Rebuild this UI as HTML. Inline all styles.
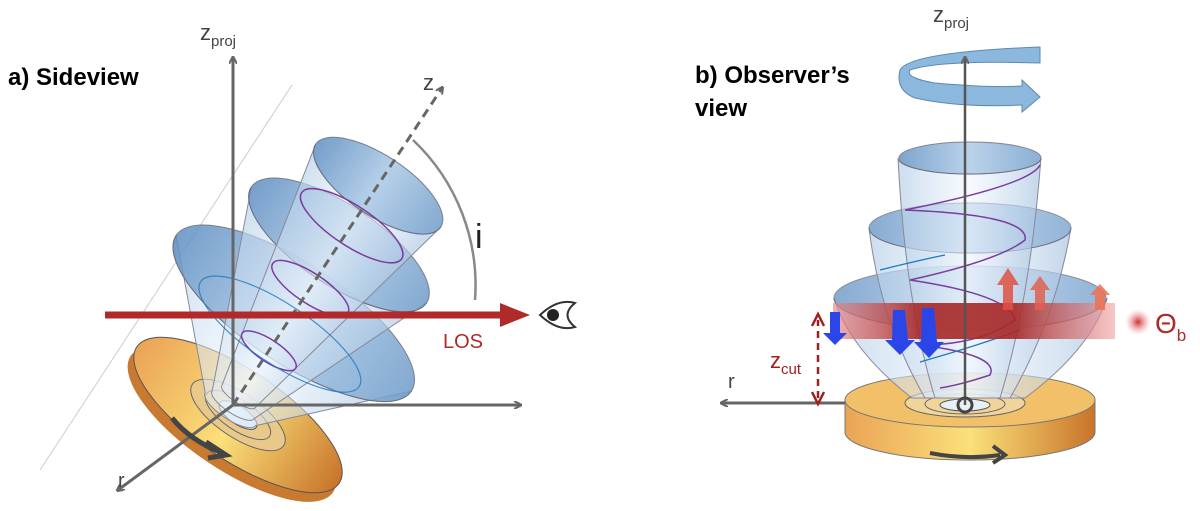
<!DOCTYPE html>
<html><head><meta charset="utf-8"><style>
body{margin:0;background:#fff;overflow:hidden}
svg{display:block;font-family:"Liberation Sans",sans-serif}
</style></head><body>
<svg width="1200" height="511" viewBox="0 0 1200 511" xmlns="http://www.w3.org/2000/svg">
<defs>
<linearGradient id="cone" x1="0" x2="1" y1="0" y2="0">
<stop offset="0" stop-color="#b6cfe8" stop-opacity=".7"/>
<stop offset=".5" stop-color="#eef5fc" stop-opacity=".5"/>
<stop offset="1" stop-color="#a8c4e2" stop-opacity=".7"/>
</linearGradient>
<linearGradient id="top" x1="0" x2="1" y1="0" y2="0">
<stop offset="0" stop-color="#5f8fc2"/><stop offset=".5" stop-color="#a9c8e6"/><stop offset="1" stop-color="#6f9cca"/>
</linearGradient>
<linearGradient id="disk" x1="0" x2="1" y1="0" y2="0">
<stop offset="0" stop-color="#eba356"/><stop offset=".5" stop-color="#fbe07a"/><stop offset="1" stop-color="#c8742a"/>
</linearGradient>
<linearGradient id="band" x1="0" x2="1">
<stop offset="0" stop-color="#e88888" stop-opacity=".65"/><stop offset=".3" stop-color="#a82828" stop-opacity=".9"/><stop offset=".65" stop-color="#a82828" stop-opacity=".9"/><stop offset="1" stop-color="#f0a0a0" stop-opacity=".6"/>
</linearGradient>
<radialGradient id="glow"><stop offset="0" stop-color="#d03030"/><stop offset="1" stop-color="#f0a0a0" stop-opacity="0"/></radialGradient>
<marker id="ag" markerWidth="8" markerHeight="8" refX="6" refY="4" orient="auto" markerUnits="userSpaceOnUse"><path d="M0,0 L8,4 L0,8" fill="none" stroke="#666" stroke-width="2"/></marker>
</defs>

<!-- LEFT PANEL -->
<text x="8" y="85" font-size="24" font-weight="bold">a) Sideview</text>
<line x1="292" y1="85" x2="40" y2="470" stroke="#ccc" stroke-width="1"/>
<g transform="translate(238,415) rotate(34)">
<ellipse cx="0" cy="11" rx="122" ry="45" fill="#c77a30"/>
<ellipse cx="0" cy="0" rx="122" ry="45" fill="url(#disk)" stroke="#555" stroke-width="1"/>
<ellipse cx="0" cy="0" rx="55" ry="22" fill="#e8c98a" stroke="#666"/>
<ellipse cx="0" cy="0" rx="38" ry="15" fill="none" stroke="#666"/>
<ellipse cx="0" cy="0" rx="22" ry="9" fill="#d8e8f2" stroke="#555"/>
</g>
<g transform="translate(233,405) rotate(33.5)">
<path d="M-141,-110 A141,50 0 0 0 141,-110 L30,5 A30,10 0 0 1 -30,5 Z" fill="url(#cone)" stroke="#889" stroke-width="1"/>
<ellipse cx="0" cy="-110" rx="141" ry="50" fill="url(#top)" opacity=".85" stroke="#667"/>
<path d="M-105,-192 A105,40 0 0 0 105,-192 L25,0 A25,8 0 0 1 -25,0 Z" fill="url(#cone)" stroke="#889"/>
<ellipse cx="0" cy="-192" rx="105" ry="40" fill="url(#top)" opacity=".85" stroke="#667"/>
<path d="M-75,-263 A75,30 0 0 0 75,-263 L20,-10 A20,6 0 0 1 -20,-10 Z" fill="url(#cone)" stroke="#889"/>
<ellipse cx="0" cy="-263" rx="75" ry="30" fill="url(#top)" opacity=".85" stroke="#667"/>
<ellipse cx="0" cy="-215" rx="60" ry="20" fill="none" stroke="#7a3ca0" stroke-width="1.5"/>
<ellipse cx="0" cy="-140" rx="45" ry="15" fill="none" stroke="#7a3ca0" stroke-width="1.5"/>
<ellipse cx="0" cy="-65" rx="32" ry="11" fill="none" stroke="#7a3ca0" stroke-width="1.5"/>
<ellipse cx="0" cy="-85" rx="95" ry="30" fill="none" stroke="#1a7ac0" stroke-width="1.2" opacity=".8"/>
</g>
<line x1="233" y1="405" x2="233" y2="58" stroke="#666" stroke-width="3" marker-end="url(#ag)"/>
<line x1="233" y1="405" x2="520" y2="405" stroke="#666" stroke-width="3" marker-end="url(#ag)"/>
<line x1="233" y1="405" x2="118" y2="490" stroke="#666" stroke-width="3" marker-end="url(#ag)"/>
<line x1="233" y1="405" x2="442" y2="88" stroke="#666" stroke-width="3" stroke-dasharray="9,6" marker-end="url(#ag)"/>
<path d="M413,140 A200,200 0 0 1 475,300" fill="none" stroke="#888" stroke-width="2.5"/>
<path d="M172,418 Q190,440 220,452" fill="none" stroke="#444" stroke-width="5"/>
<path d="M206,442 L226,455 L208,458" fill="none" stroke="#444" stroke-width="5"/>
<text x="200" y="40" font-size="22" fill="#444">z<tspan font-size="15" dy="6">proj</tspan></text>
<text x="423" y="90" font-size="22" fill="#444">z</text>
<text x="475" y="248" font-size="34" fill="#222">i</text>
<text x="118" y="487" font-size="20" fill="#444">r</text>
<line x1="105" y1="315" x2="510" y2="315" stroke="#b02a2a" stroke-width="7"/>
<path d="M500,303 L530,315 L500,327 Z" fill="#b02a2a"/>
<text x="443" y="348" font-size="20" fill="#b02a2a">LOS</text>
<path d="M540,315 Q558,298 575,303 Q560,315 575,327 Q558,332 540,315 Z" fill="#fff" stroke="#333" stroke-width="2"/>
<circle cx="553" cy="315" r="6" fill="#222"/>

<!-- RIGHT PANEL -->
<text x="695" y="83" font-size="24" font-weight="bold">b) Observer’s</text>
<text x="695" y="116" font-size="24" font-weight="bold">view</text>
<path d="M1040,47 L1040,63 Q940,60 910,70 Q905,78 935,83 Q990,88 1022,86 L1022,80 L1040,97 L1022,112 L1022,105 Q960,108 915,98 Q895,90 900,70 Q910,52 1040,47 Z" fill="#8db8dd" stroke="#5a8ab5"/>
<path d="M845,400 L845,432 A125,28 0 0 0 1095,432 L1095,400 Z" fill="url(#disk)" stroke="#777"/>
<ellipse cx="970" cy="400" rx="125" ry="27" fill="#f3c06a" stroke="#777"/>
<ellipse cx="965" cy="403" rx="60" ry="14" fill="#f0d49a" stroke="#666"/>
<ellipse cx="965" cy="404" rx="40" ry="10" fill="none" stroke="#666"/>
<ellipse cx="965" cy="405" rx="25" ry="6" fill="#e6f0f6" stroke="#555"/>
<path d="M930,453 Q965,460 1000,455" fill="none" stroke="#444" stroke-width="4"/>
<path d="M993,446 L1005,455 L993,463" fill="none" stroke="#444" stroke-width="4"/>
<path d="M834,298 Q850,350 912,398 L1025,398 Q1090,350 1107,298 A136,32 0 0 1 834,298 Z" fill="url(#cone)" stroke="#889"/>
<ellipse cx="970" cy="298" rx="136" ry="32" fill="url(#top)" opacity=".75" stroke="#667"/>
<path d="M869,228 Q880,320 925,398 L1010,398 Q1055,320 1071,228 A101,25 0 0 1 869,228 Z" fill="url(#cone)" stroke="#889"/>
<ellipse cx="970" cy="228" rx="101" ry="25" fill="url(#top)" opacity=".75" stroke="#667"/>
<path d="M898,158 Q905,300 935,398 L1000,398 Q1030,300 1041,158 A71,16 0 0 1 898,158 Z" fill="url(#cone)" stroke="#889"/>
<ellipse cx="970" cy="158" rx="71" ry="16" fill="url(#top)" opacity=".8" stroke="#667"/>
<path d="M1040,165 Q1030,185 905,210 Q1030,215 1025,240 Q1000,260 910,280 Q1010,295 1015,320 Q980,345 920,345 Q1000,355 990,375 Q960,385 940,388" fill="none" stroke="#7a3ca0" stroke-width="1.5"/>
<path d="M880,270 Q920,260 945,255" fill="none" stroke="#1a7ac0" stroke-width="1.3"/>
<path d="M920,362 Q980,345 1020,330" fill="none" stroke="#1a7ac0" stroke-width="1.3"/>
<rect x="833" y="303" width="282" height="36" fill="url(#band)"/>
<path d="M1003,310 L1003,285 L997,285 L1008,268 L1019,285 L1013,285 L1013,310 Z" fill="#e05040" opacity=".85"/>
<path d="M1035,310 L1035,290 L1030,290 L1040,276 L1050,290 L1045,290 L1045,310 Z" fill="#e06050" opacity=".85"/>
<path d="M1095,310 L1095,295 L1090,295 L1100,284 L1110,295 L1105,295 L1105,310 Z" fill="#f07050" opacity=".85"/>
<path d="M830,312 L840,312 L840,333 L847,333 L835,345 L823,333 L830,333 Z" fill="#2a45e8"/>
<path d="M893,310 L905,310 L908,340 L915,340 L900,355 L885,340 L892,340 Z" fill="#2a45e8"/>
<path d="M922,308 L934,308 L937,342 L944,342 L929,358 L914,342 L921,342 Z" fill="#2a45e8"/>
<line x1="965" y1="405" x2="965" y2="58" stroke="#555" stroke-width="2.5" marker-end="url(#ag)"/>
<circle cx="965" cy="405" r="7" fill="none" stroke="#444" stroke-width="3"/>
<line x1="845" y1="403" x2="722" y2="403" stroke="#666" stroke-width="3" marker-end="url(#ag)"/>
<text x="728" y="388" font-size="20" fill="#444">r</text>
<text x="933" y="22" font-size="22" fill="#444">z<tspan font-size="15" dy="6">proj</tspan></text>
<line x1="818" y1="398" x2="818" y2="320" stroke="#a02020" stroke-width="2.5" stroke-dasharray="7,5"/>
<path d="M812,326 L818,314 L824,326" fill="none" stroke="#a02020" stroke-width="2.5"/>
<path d="M812,392 L818,404 L824,392" fill="none" stroke="#a02020" stroke-width="2.5"/>
<text x="770" y="368" font-size="22" fill="#a02020">z<tspan font-size="15" dy="6">cut</tspan></text>
<circle cx="1138" cy="322" r="13" fill="url(#glow)"/>
<text x="1155" y="333" font-size="28" fill="#b02a2a">Θ<tspan font-size="17" dy="8">b</tspan></text>
</svg>
</body></html>
